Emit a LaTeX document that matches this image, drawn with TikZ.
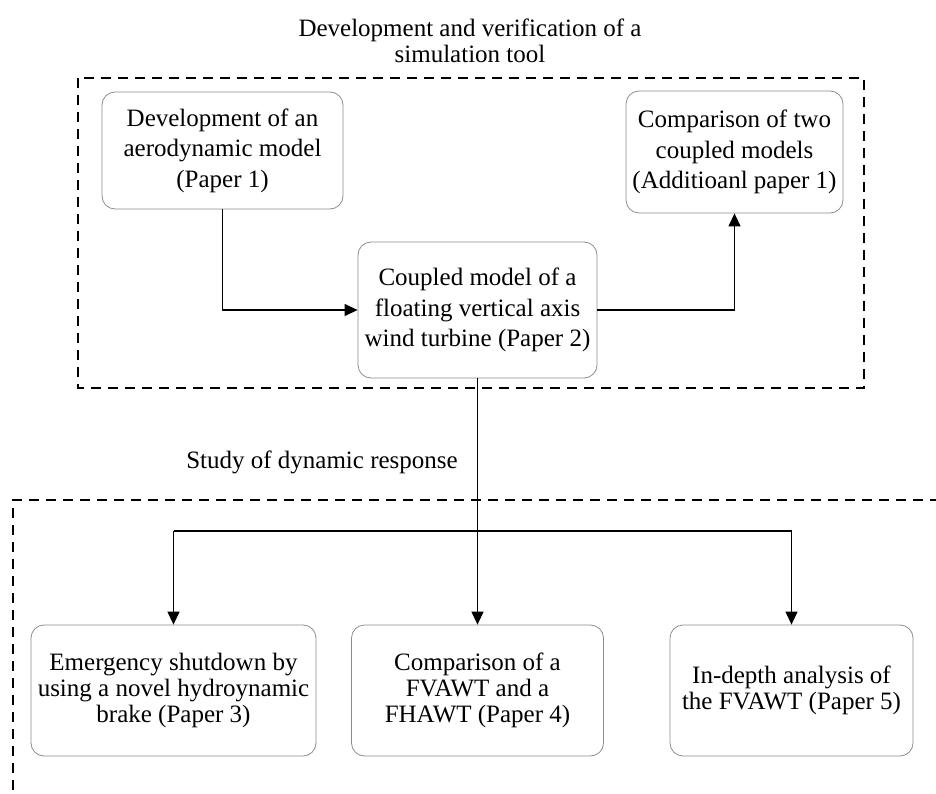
\documentclass[tikz,border=0pt]{standalone}
\usepackage{fontspec}
\setmainfont{Liberation Serif}
\usetikzlibrary{arrows.meta}
\begin{document}
\begin{tikzpicture}[x=1pt,y=-1pt,
  box/.style={draw=black!45, line width=0.8pt, rounded corners=13pt, align=center, inner sep=0pt, font=\fontsize{25}{30.5}\selectfont},
  lowbox/.style={box, font=\fontsize{25}{26}\selectfont},
  conn/.style={line width=1.3pt, -{Triangle[length=13pt,width=12pt]}},
  plain/.style={line width=1.3pt},
  frame/.style={line width=1.3pt, dash pattern=on 10pt off 7pt},
  lbl/.style={align=center, inner sep=0pt, font=\fontsize{25}{26}\selectfont}]
\useasboundingbox (0,0) rectangle (936,794);

% titles
\node[lbl] (title) at (470,41) {Development and verification of a\\simulation tool};
\node[lbl] (study) at (322,462) {Study of dynamic response};

% frames
\draw[frame] (78,78) rectangle (864,388);
\coordinate (fc) at (13,500);
\coordinate (fr) at (940,500);
\coordinate (fb) at (13,800);
\draw[frame] (fr) -- (fc) -- (fb);

% boxes
\node[box, minimum width=241pt, minimum height=117pt] (p1) at (222.5,150.5) {Development of an\\aerodynamic model\\(Paper 1)};
\node[box, minimum width=217pt, minimum height=122pt] (a1) at (734.5,152) {Comparison of two\\coupled models\\(Additioanl paper 1)};
\node[box, minimum width=239pt, minimum height=136pt] (p2) at (477.5,310) {Coupled model of a\\floating vertical axis\\wind turbine (Paper 2)};
\node[lowbox, minimum width=285pt, minimum height=131pt] (p3) at (173.5,690.5) {Emergency shutdown by\\using a novel hydroynamic\\brake (Paper 3)};
\node[lowbox, minimum width=252pt, minimum height=131pt] (p4) at (477.5,690.5) {Comparison of a\\FVAWT and a\\FHAWT (Paper 4)};
\node[lowbox, minimum width=243pt, minimum height=131pt] (p5) at (791.5,690.5) {In-depth analysis of\\the FVAWT (Paper 5)};

% connectors
\draw[conn] (p1.south) |- (p2.west);
\draw[conn] (p2.east) -| (a1.south);
\draw[conn] (p2.south) -- (p4.north);
\coordinate (hl) at (173.5,531);
\coordinate (hr) at (791.5,531);
\draw[plain] (hl) -- (hr);
\draw[conn] (hl) -- (p3.north);
\draw[conn] (hr) -- (p5.north);
\end{tikzpicture}
\end{document}
